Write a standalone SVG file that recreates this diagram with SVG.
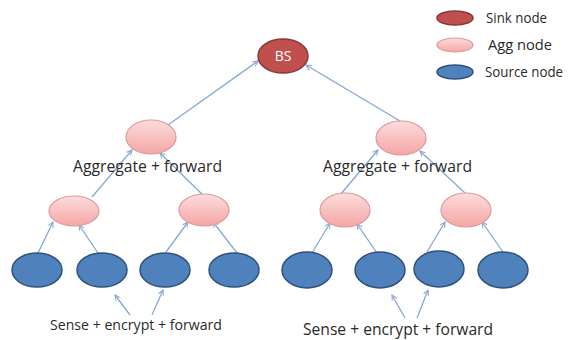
<svg xmlns="http://www.w3.org/2000/svg" width="569" height="340" viewBox="0 0 569 340">
  <style>
    .sink { fill: #c0504d; stroke: #8c3836; stroke-width: 1.5; }
    .agg { fill: url(#aggFill); stroke: #dc9a99; stroke-width: 1.2; }
    .src { fill: #4f81bd; stroke: #2f527c; stroke-width: 1.5; }
    .link { stroke: #86a8d2; stroke-width: 1.3; fill: none; marker-end: url(#arrow); }
    .lbl { font-family: "Open Sans", "Liberation Sans", sans-serif; fill: #2a2a2a; }
    .bs { font-family: "Open Sans", "Liberation Sans", sans-serif; fill: #ffffff; font-size: 14px; text-anchor: middle; }
  </style>
  <defs>
    <linearGradient id="aggFill" x1="0" y1="0" x2="0" y2="1">
      <stop offset="0" stop-color="#fddcdc"/>
      <stop offset="1" stop-color="#f4a6a5"/>
    </linearGradient>
    <marker id="arrow" viewBox="0 0 8 8" refX="7" refY="4" markerWidth="7" markerHeight="7" orient="auto" markerUnits="userSpaceOnUse">
      <path d="M1,1 L7,4 L1,7" fill="none" stroke="#86a8d2" stroke-width="1.2"/>
    </marker>
  </defs>

  <rect width="569" height="340" fill="#ffffff"/>

  <!-- connectors -->
  <g id="connectors">
    <line class="link" x1="168" y1="125" x2="258" y2="61"/>
    <line class="link" x1="400" y1="121" x2="306" y2="65"/>
    <line class="link" x1="92" y1="197" x2="132" y2="150"/>
    <line class="link" x1="208" y1="200" x2="160" y2="153"/>
    <line class="link" x1="340" y1="195" x2="378" y2="150"/>
    <line class="link" x1="465" y1="193" x2="420" y2="151"/>
    <line class="link" x1="38" y1="253" x2="53" y2="222"/>
    <line class="link" x1="98" y1="253" x2="79" y2="225"/>
    <line class="link" x1="166" y1="252" x2="188" y2="222"/>
    <line class="link" x1="237" y1="253" x2="213" y2="222"/>
    <line class="link" x1="312" y1="253" x2="330" y2="223"/>
    <line class="link" x1="377" y1="253" x2="357" y2="224"/>
    <line class="link" x1="427" y1="252" x2="445" y2="222"/>
    <line class="link" x1="503" y1="252" x2="482" y2="222"/>
    <line class="link" x1="130" y1="315" x2="115" y2="295"/>
    <line class="link" x1="152" y1="315" x2="163" y2="290"/>
    <line class="link" x1="405" y1="318" x2="392" y2="295"/>
    <line class="link" x1="417" y1="318" x2="428" y2="290"/>
  </g>

  <!-- sink -->
  <g id="bs">
    <ellipse class="sink" cx="283" cy="56" rx="25" ry="17"/>
    <text class="bs" x="283" y="61">BS</text>
  </g>

  <!-- aggregation level 1 -->
  <g id="agg-l1-left"><ellipse class="agg" cx="151" cy="137" rx="25" ry="17"/></g>
  <g id="agg-l1-right"><ellipse class="agg" cx="401" cy="138" rx="25" ry="17"/></g>

  <!-- aggregation level 2 -->
  <g id="agg-l2-a"><ellipse class="agg" cx="74" cy="211" rx="25" ry="15"/></g>
  <g id="agg-l2-b"><ellipse class="agg" cx="204" cy="210" rx="25" ry="16"/></g>
  <g id="agg-l2-c"><ellipse class="agg" cx="345" cy="210" rx="25" ry="17"/></g>
  <g id="agg-l2-d"><ellipse class="agg" cx="466" cy="210" rx="25" ry="17"/></g>

  <!-- sources -->
  <g id="src-1"><ellipse class="src" cx="37" cy="270" rx="25" ry="17"/></g>
  <g id="src-2"><ellipse class="src" cx="102" cy="270" rx="25" ry="17"/></g>
  <g id="src-3"><ellipse class="src" cx="165" cy="270" rx="25" ry="17"/></g>
  <g id="src-4"><ellipse class="src" cx="234" cy="270" rx="25" ry="17"/></g>
  <g id="src-5"><ellipse class="src" cx="307" cy="270" rx="25" ry="18"/></g>
  <g id="src-6"><ellipse class="src" cx="380" cy="270" rx="25" ry="18"/></g>
  <g id="src-7"><ellipse class="src" cx="439" cy="269" rx="25" ry="18"/></g>
  <g id="src-8"><ellipse class="src" cx="503" cy="270" rx="25" ry="18"/></g>

  <!-- labels -->
  <text class="lbl" x="73" y="172" font-size="16" textLength="149" lengthAdjust="spacingAndGlyphs">Aggregate + forward</text>
  <text class="lbl" x="323" y="172" font-size="16" textLength="149" lengthAdjust="spacingAndGlyphs">Aggregate + forward</text>
  <text class="lbl" x="50" y="330" font-size="14" textLength="172" lengthAdjust="spacingAndGlyphs">Sense + encrypt + forward</text>
  <text class="lbl" x="303" y="335" font-size="16" textLength="190" lengthAdjust="spacingAndGlyphs">Sense + encrypt + forward</text>

  <!-- legend -->
  <g id="legend">
    <ellipse class="sink" cx="455" cy="18" rx="18" ry="7"/>
    <ellipse class="agg" cx="455" cy="45" rx="18" ry="7"/>
    <ellipse class="src" cx="455" cy="72" rx="18" ry="7"/>
    <text class="lbl" x="486" y="23" font-size="14" textLength="61" lengthAdjust="spacingAndGlyphs">Sink node</text>
    <text class="lbl" x="488" y="50" font-size="14" textLength="64" lengthAdjust="spacingAndGlyphs">Agg node</text>
    <text class="lbl" x="485" y="77" font-size="14" textLength="78" lengthAdjust="spacingAndGlyphs">Source node</text>
  </g>
</svg>
